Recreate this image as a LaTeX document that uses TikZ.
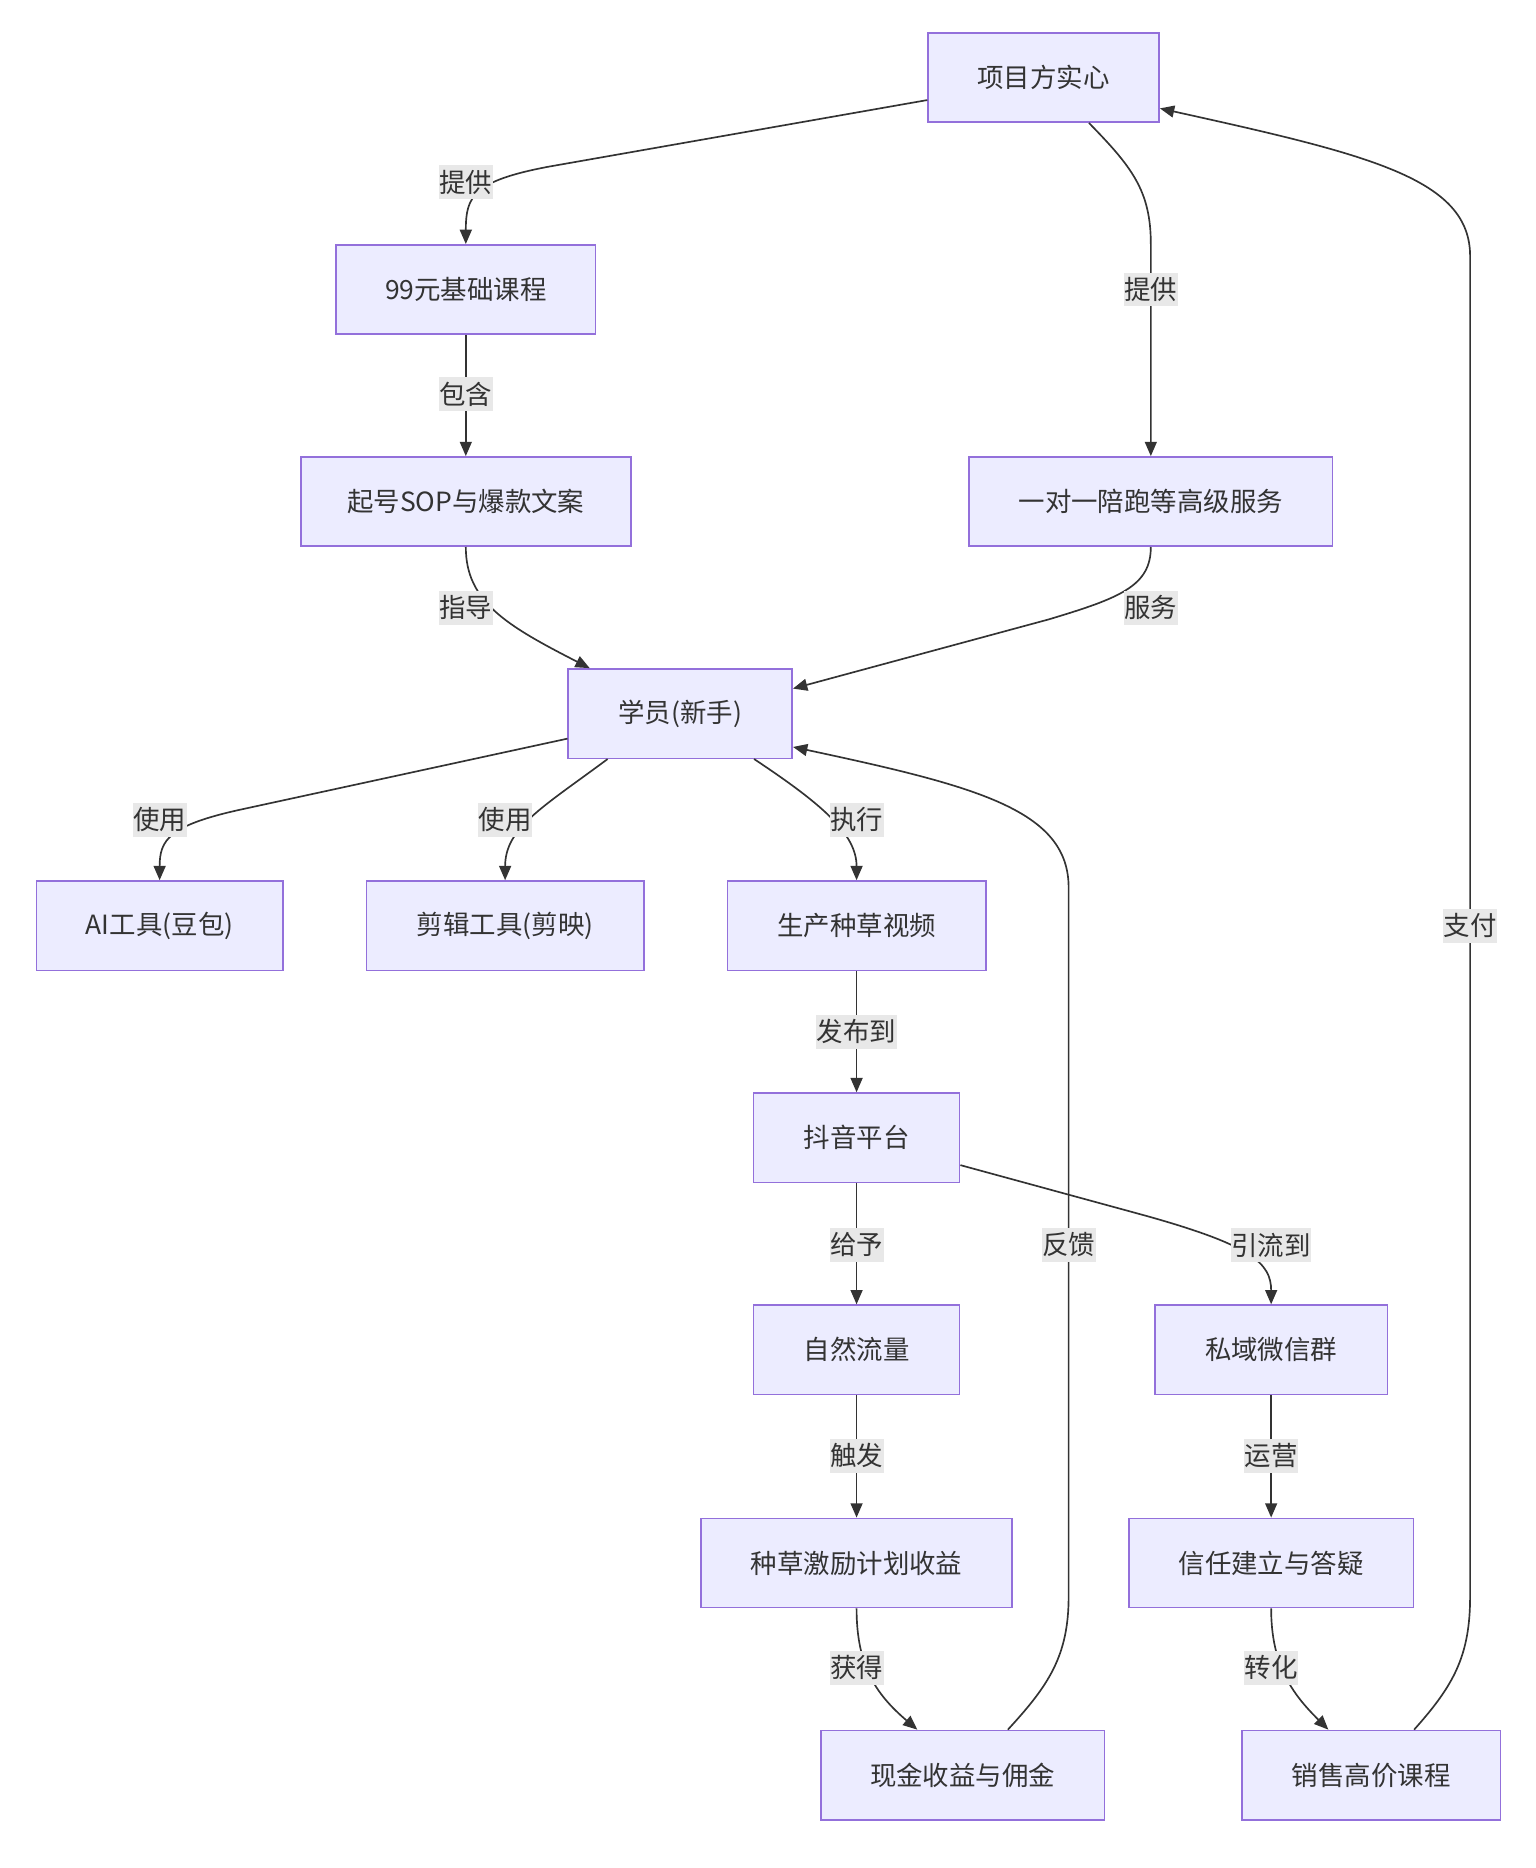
\documentclass[tikz,border=0pt]{standalone}
\usepackage{fontspec}
\setmainfont{Noto Sans CJK SC}
\usetikzlibrary{arrows.meta}
\definecolor{nodefill}{HTML}{ECECFF}
\definecolor{nodestroke}{HTML}{9370DB}
\definecolor{edgecol}{HTML}{333333}
\definecolor{lblbg}{HTML}{E8E8E8}
\tikzset{
  box/.style={draw=nodestroke, fill=nodefill, line width=1.3pt, minimum height=75pt, inner sep=0pt, text=edgecol, font=\fontsize{22.2}{26}\selectfont},
  lbl/.style={fill=lblbg, inner xsep=0.5pt, inner ysep=4pt, text=edgecol, font=\fontsize{22.2}{26}\selectfont},
  conn/.style={draw=edgecol, line width=1.4pt, -{Triangle[length=12pt,width=10pt]}},
}
\begin{document}
\begin{tikzpicture}[x=1pt,y=1pt]
\useasboundingbox (0,0) rectangle (1289,-1568);
% nodes
\node[box, minimum width=194] (p) at (876,-65) {项目方实心};
\node[box, minimum width=218] (k) at (391,-243) {99元基础课程};
\node[box, minimum width=277] (s) at (391,-421) {起号SOP与爆款文案};
\node[box, minimum width=305] (o) at (966,-421) {一对一陪跑等高级服务};
\node[box, minimum width=188] (x) at (571,-599) {学员(新手)};
\node[box, minimum width=207] (ai) at (134,-777) {AI工具(豆包)};
\node[box, minimum width=233] (jj) at (424,-777) {剪辑工具(剪映)};
\node[box, minimum width=217] (sc) at (719,-777) {生产种草视频};
\node[box, minimum width=173] (dy) at (719,-955) {抖音平台};
\node[box, minimum width=173] (zr) at (719,-1133) {自然流量};
\node[box, minimum width=195] (sy) at (1067,-1133) {私域微信群};
\node[box, minimum width=261] (jl) at (719,-1312) {种草激励计划收益};
\node[box, minimum width=239] (xr) at (1067,-1312) {信任建立与答疑};
\node[box, minimum width=238] (xj) at (808,-1490) {现金收益与佣金};
\node[box, minimum width=217] (xs) at (1151,-1490) {销售高价课程};
% edges
\draw[conn] ([yshift=-19pt]p.west) -- (460,-140) .. controls (397,-152) and (391,-165) .. (k.north);
\draw[conn] ([xshift=38pt]p.south) .. controls (950,-140) and (966,-160) .. (966,-205) -- (o.north);
\draw[conn] (k.south) -- (s.north);
\draw[conn] (s.south) .. controls (391,-505) and (425,-525) .. ([xshift=-76pt]x.north);
\draw[conn] (o.south) .. controls (966,-492) and (940,-502) .. (880,-520) -- ([yshift=21pt]x.east);
\draw[conn] ([yshift=-21pt]x.west) -- (200,-680) .. controls (142,-693) and (134,-705) .. (ai.north);
\draw[conn] ([xshift=-61pt]x.south) .. controls (455,-678) and (424,-695) .. (jj.north);
\draw[conn] ([xshift=62pt]x.south) .. controls (690,-675) and (719,-700) .. (sc.north);
\draw[conn] (sc.south) -- (dy.north);
\draw[conn] (dy.south) -- (zr.north);
\draw[conn] ([yshift=-23pt]dy.east) -- (960,-1020) .. controls (1050,-1045) and (1067,-1060) .. (sy.north);
\draw[conn] (zr.south) -- (jl.north);
\draw[conn] (sy.south) -- (xr.north);
\draw[conn] (jl.south) .. controls (719,-1398) and (735,-1422) .. ([xshift=-38pt]xj.north);
\draw[conn] (xr.south) .. controls (1067,-1398) and (1085,-1422) .. ([xshift=-36pt]xs.north);
\draw[conn] ([xshift=38pt]xj.north) .. controls (880,-1415) and (897,-1390) .. (897,-1340) -- (897,-745) .. controls (897,-680) and (820,-660) .. ([yshift=-28pt]x.east);
\draw[conn] ([xshift=36pt]xs.north) .. controls (1220,-1415) and (1234,-1390) .. (1234,-1340) -- (1234,-215) .. controls (1234,-150) and (1150,-130) .. ([yshift=-26pt]p.east);
% labels
\node[lbl] (l1) at (391,-153) {提供};
\node[lbl] (l2) at (966,-243) {提供};
\node[lbl] (l3) at (391,-331) {包含};
\node[lbl] (l4) at (391,-510) {指导};
\node[lbl] (l5) at (966,-510) {服务};
\node[lbl] (l6) at (134,-688) {使用};
\node[lbl] (l7) at (424,-688) {使用};
\node[lbl] (l8) at (719,-688) {执行};
\node[lbl] (l9) at (719,-866) {发布到};
\node[lbl] (l10) at (719,-1045) {给予};
\node[lbl] (l11) at (1067,-1045) {引流到};
\node[lbl] (l12) at (897,-1045) {反馈};
\node[lbl] (l13) at (719,-1222) {触发};
\node[lbl] (l14) at (1067,-1222) {运营};
\node[lbl] (l15) at (719,-1400) {获得};
\node[lbl] (l16) at (1067,-1400) {转化};
\node[lbl] (l17) at (1234,-777) {支付};
\end{tikzpicture}
\end{document}
